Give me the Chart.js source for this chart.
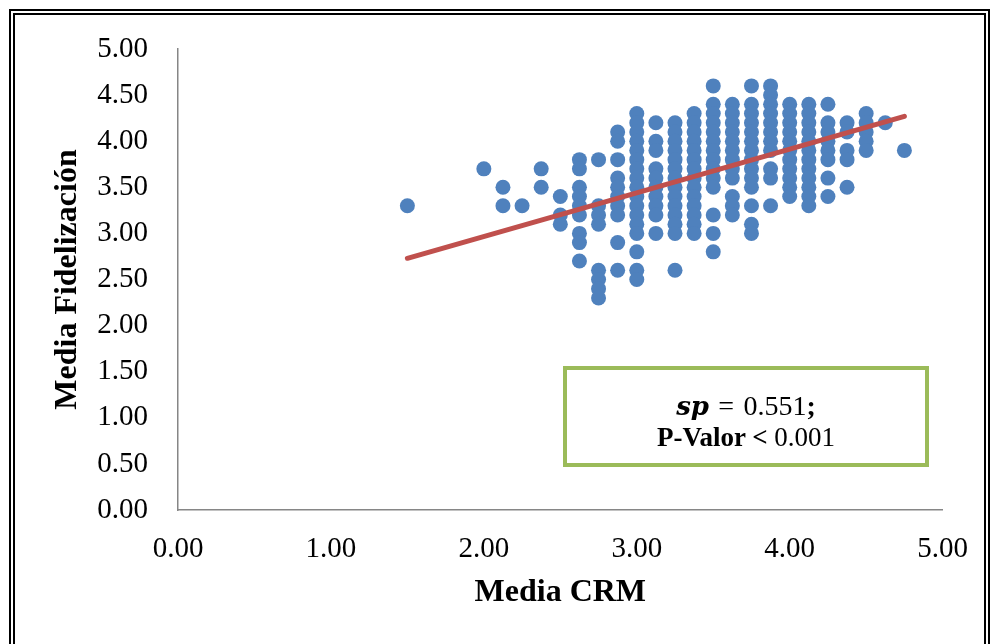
<!DOCTYPE html>
<html>
<head>
<meta charset="utf-8">
<script src="https://cdn.jsdelivr.net/npm/chart.js@4.4.1/dist/chart.umd.min.js"></script>
<style>
  body { margin: 0; background: #fff; }
  #wrap { position: relative; width: 990px; height: 644px; overflow: hidden; }
  #frame {
    position: absolute; left: 9px; top: 9px; width: 981px; height: 700px;
    box-sizing: border-box; border: 6px double #000;
  }
  #stat {
    position: absolute; left: 563px; top: 366px; width: 366px; height: 101px;
    box-sizing: border-box; border: 4px solid #9bbb59;
    font-family: 'Liberation Serif', 'Times New Roman', serif; font-size: 27px;
    color: #000; text-align: center; line-height: 31px; padding-top: 20px;
  }
  #stat .l1 { font-size: 28px; }
  #stat b.it { font-style: italic; font-family: 'DejaVu Serif', serif; font-size: 26px; }
</style>
</head>
<body>
<div id="wrap">
  <canvas id="graph" width="990" height="644"></canvas>
  <div id="frame"></div>
  <div id="stat">
    <span class="l1"><b class="it">sp</b> &#8202;=&#8202; 0.551<b>;</b></span><br>
    <b>P-Valor &lt;</b> 0.001
  </div>
</div>
<script>
  // columnas de Media CRM (eje X)
  const crmLevels = [1.5, 2.0, 2.125, 2.25, 2.375, 2.5, 2.625, 2.75, 2.875, 3.0, 3.125, 3.25,
    3.375, 3.5, 3.625, 3.75, 3.875, 4.0, 4.125, 4.25, 4.375, 4.5, 4.625, 4.75];

  const fidelizacion = [
    [3.3],
    [3.7],
    [3.5, 3.3],
    [3.3],
    [3.7, 3.5],
    [3.4, 3.2, 3.1],
    [3.8, 3.7, 3.5, 3.4, 3.3, 3.2, 3.0, 2.9, 2.7],
    [3.8, 3.3, 3.2, 3.1, 2.6, 2.5, 2.4, 2.3],
    [4.1, 4.0, 3.8, 3.6, 3.5, 3.4, 3.3, 3.2, 2.9, 2.6],
    [4.3, 4.2, 4.1, 4.0, 3.9, 3.8, 3.7, 3.6, 3.5, 3.4, 3.3, 3.2, 3.1, 3.0, 2.8, 2.6, 2.5],
    [4.2, 4.0, 3.9, 3.7, 3.6, 3.5, 3.4, 3.3, 3.2, 3.0],
    [4.2, 4.1, 4.0, 3.9, 3.8, 3.7, 3.6, 3.5, 3.4, 3.3, 3.2, 3.1, 3.0, 2.6],
    [4.3, 4.2, 4.1, 4.0, 3.9, 3.8, 3.7, 3.6, 3.5, 3.4, 3.3, 3.2, 3.1, 3.0],
    [4.6, 4.4, 4.3, 4.2, 4.1, 4.0, 3.9, 3.8, 3.7, 3.6, 3.5, 3.2, 3.0, 2.8],
    [4.4, 4.3, 4.2, 4.1, 4.0, 3.9, 3.8, 3.7, 3.6, 3.4, 3.3, 3.2],
    [4.6, 4.4, 4.3, 4.2, 4.1, 4.0, 3.9, 3.8, 3.7, 3.6, 3.5, 3.3, 3.1, 3.0],
    [4.6, 4.5, 4.4, 4.3, 4.2, 4.1, 4.0, 3.9, 3.7, 3.6, 3.3],
    [4.4, 4.3, 4.2, 4.1, 4.0, 3.9, 3.8, 3.7, 3.6, 3.5, 3.4],
    [4.4, 4.3, 4.2, 4.1, 4.0, 3.9, 3.8, 3.7, 3.6, 3.5, 3.4, 3.3],
    [4.4, 4.2, 4.1, 4.0, 3.9, 3.8, 3.6, 3.4],
    [4.2, 4.1, 3.9, 3.8, 3.5],
    [4.3, 4.2, 4.1, 4.0, 3.9],
    [4.2],
    [3.9]
  ];

  // recta de tendencia (extremos)
  const trendX = [1.5, 4.75];
  const trendY = [2.73, 4.27];

  const axisTicks = [0, 0.5, 1, 1.5, 2, 2.5, 3, 3.5, 4, 4.5, 5];

  const points = [];
  crmLevels.forEach((x, i) => {
    fidelizacion[i].forEach(y => points.push({ x: x, y: y }));
  });
  const trend = trendX.map((x, i) => ({ x: x, y: trendY[i] }));

  const serif = 'Liberation Serif';
  const tickFont = { family: serif, size: 29 };
  const titleFont = { family: serif, size: 32, weight: 'bold' };

  new Chart(document.getElementById('graph'), {
    type: 'scatter',
    data: {
      datasets: [{
        type: 'line',
        data: trend,
        borderColor: '#c0504d',
        borderWidth: 5,
        borderCapStyle: 'round',
        pointRadius: 0,
        order: 0
      }, {
        data: points,
        backgroundColor: '#4f81bd',
        borderColor: '#4f81bd',
        borderWidth: 0,
        pointRadius: 7.5,
        order: 1
      }]
    },
    options: {
      responsive: false,
      animation: false,
      devicePixelRatio: 1,
      layout: { padding: { left: 40, right: 45, top: 49, bottom: 20 } },
      plugins: { legend: { display: false }, tooltip: { enabled: false } },
      scales: {
        x: {
          type: 'linear', min: 0, max: 5,
          afterBuildTicks: s => { s.ticks = [0, 1, 2, 3, 4, 5].map(v => ({ value: v })); },
          afterFit: s => { s.height = 114; },
          grid: { display: false, drawTicks: false },
          border: { display: true, color: '#868686', width: 1.5 },
          ticks: { font: tickFont, color: '#000', padding: 22, maxRotation: 0, callback: v => v.toFixed(2) },
          title: { display: true, text: 'Media CRM', font: titleFont, color: '#000', padding: { top: 0, bottom: 12 } }
        },
        y: {
          type: 'linear', min: 0, max: 5,
          afterBuildTicks: s => { s.ticks = axisTicks.map(v => ({ value: v })); },
          afterFit: s => { s.width = 138; },
          grid: { display: false, drawTicks: false },
          border: { display: true, color: '#868686', width: 1.5 },
          ticks: { font: tickFont, color: '#000', padding: 30, callback: v => v.toFixed(2) },
          title: { display: true, text: 'Media Fidelización', font: titleFont, color: '#000', padding: { top: 9, bottom: 0 } }
        }
      }
    }
  });
</script>
</body>
</html>
